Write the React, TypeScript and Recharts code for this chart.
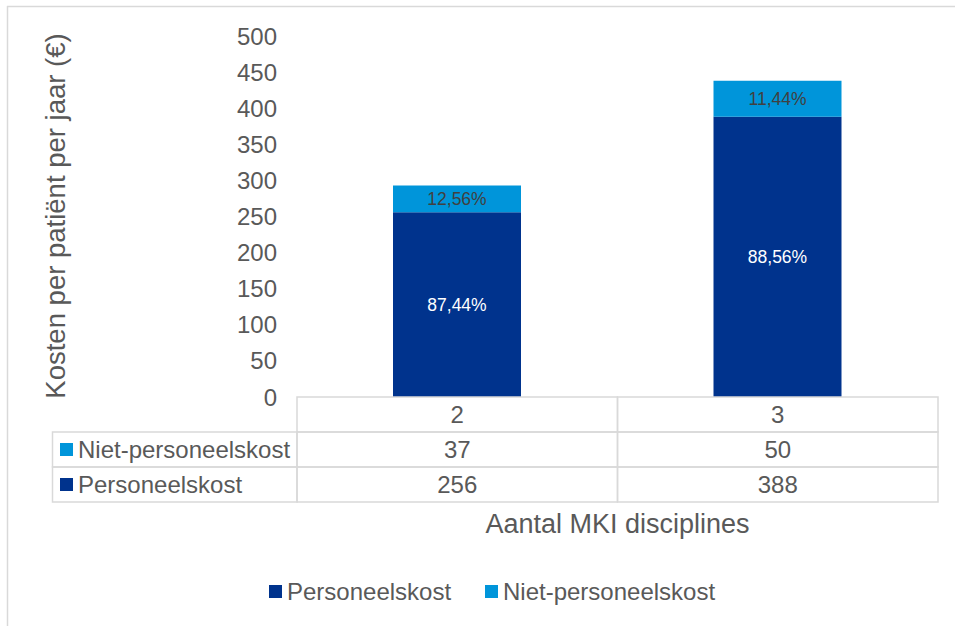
import { Bar, BarChart, LabelList, XAxis, YAxis } from "recharts";

const categories = ["2", "3"];
const personeelskost = [256, 388];
const nietPersoneelskost = [37, 50];
const personeelPct = ["87,44%", "88,56%"];
const nietPct = ["12,56%", "11,44%"];
const yTicks = [0, 50, 100, 150, 200, 250, 300, 350, 400, 450, 500];
const seriesNames = ["Personeelskost", "Niet-personeelskost"];

const DARK = "#00338D";
const LIGHT = "#0095DA";
const GRID = "#d9d9d9";
const TEXT = "#595959";
const FONT = "'Liberation Sans', Arial, sans-serif";

const W = 955;
const H = 626;
const PLOT_LEFT = 297;
const PLOT_RIGHT = 938;
const PLOT_TOP = 36;
const PLOT_BOTTOM = 397;
const ROW_H = 35;
const BAND = (PLOT_RIGHT - PLOT_LEFT) / categories.length;

const data = categories.map((cat, i) => ({
  cat,
  pers: personeelskost[i],
  niet: nietPersoneelskost[i],
  persPct: personeelPct[i],
  nietPct: nietPct[i],
}));

type TickProps = {
  x?: number;
  y?: number;
  payload?: { value: string; index: number };
};

// category column of the data table under the bars
function TableTick({ x = 0, y = 0, payload }: TickProps) {
  const i = payload?.index ?? 0;
  const left = x - BAND / 2;
  const cells = [payload?.value, nietPersoneelskost[i], personeelskost[i]];
  return (
    <g>
      {cells.map((v, r) => (
        <g key={r}>
          <rect
            x={left}
            y={y + r * ROW_H}
            width={BAND}
            height={ROW_H}
            fill="none"
            stroke={GRID}
            strokeWidth={1.5}
          />
          <text
            x={x}
            y={y + r * ROW_H + ROW_H / 2}
            textAnchor="middle"
            dominantBaseline="central"
            fontSize={24}
            fontFamily={FONT}
            fill={TEXT}
          >
            {v}
          </text>
        </g>
      ))}
    </g>
  );
}

export default function App() {
  const rowLabels = [
    { name: seriesNames[1], color: LIGHT },
    { name: seriesNames[0], color: DARK },
  ];
  const legend = [
    { name: seriesNames[0], color: DARK, x: 269 },
    { name: seriesNames[1], color: LIGHT, x: 485 },
  ];

  return (
    <div
      style={{
        position: "absolute",
        left: 0,
        top: 0,
        width: W,
        height: H,
        background: "#fff",
        fontFamily: FONT,
      }}
    >
      <BarChart
        width={W}
        height={H}
        data={data}
        margin={{ top: PLOT_TOP, right: W - PLOT_RIGHT, bottom: H - PLOT_BOTTOM - 3 * ROW_H, left: 0 }}
        barSize={128}
      >
        <XAxis
          dataKey="cat"
          axisLine={false}
          tickLine={false}
          tickSize={0}
          tickMargin={0}
          height={3 * ROW_H}
          interval={0}
          tick={<TableTick />}
        />
        <YAxis
          domain={[0, 500]}
          ticks={yTicks}
          axisLine={false}
          tickLine={false}
          tickSize={0}
          tickMargin={20}
          width={PLOT_LEFT}
          tick={{ fill: TEXT, fontSize: 24, fontFamily: FONT }}
        />
        <Bar dataKey="pers" stackId="a" fill={DARK} isAnimationActive={false}>
          <LabelList dataKey="persPct" position="center" fill="#fff" fontSize={17.5} fontFamily={FONT} />
        </Bar>
        <Bar dataKey="niet" stackId="a" fill={LIGHT} isAnimationActive={false}>
          <LabelList dataKey="nietPct" position="center" fill="#404040" fontSize={17.5} fontFamily={FONT} />
        </Bar>
      </BarChart>

      <svg
        width={W}
        height={H}
        style={{ position: "absolute", left: 0, top: 0, pointerEvents: "none" }}
      >
        <line x1={7} y1={6.5} x2={W} y2={6.5} stroke={GRID} strokeWidth={1.5} />
        <line x1={7.5} y1={6} x2={7.5} y2={H} stroke={GRID} strokeWidth={1.5} />

        {rowLabels.map((row, r) => {
          const top = PLOT_BOTTOM + (r + 1) * ROW_H;
          return (
            <g key={row.name}>
              <rect
                x={52.5}
                y={top}
                width={PLOT_LEFT - 52.5}
                height={ROW_H}
                fill="none"
                stroke={GRID}
                strokeWidth={1.5}
              />
              <rect x={60} y={top + ROW_H / 2 - 6.5} width={13} height={13} fill={row.color} />
              <text
                x={78}
                y={top + ROW_H / 2}
                dominantBaseline="central"
                fontSize={24}
                fontFamily={FONT}
                fill={TEXT}
              >
                {row.name}
              </text>
            </g>
          );
        })}

        <text
          transform="translate(65, 216) rotate(-90)"
          textAnchor="middle"
          fontSize={27.5}
          fontFamily={FONT}
          fill={TEXT}
        >
          Kosten per patiënt per jaar (€)
        </text>

        <text
          x={(PLOT_LEFT + PLOT_RIGHT) / 2}
          y={533}
          textAnchor="middle"
          fontSize={27}
          fontFamily={FONT}
          fill={TEXT}
        >
          Aantal MKI disciplines
        </text>

        {legend.map((item) => (
          <g key={item.name}>
            <rect x={item.x} y={585} width={13} height={13} fill={item.color} />
            <text
              x={item.x + 18}
              y={591}
              dominantBaseline="central"
              fontSize={24}
              fontFamily={FONT}
              fill={TEXT}
            >
              {item.name}
            </text>
          </g>
        ))}
      </svg>
    </div>
  );
}
